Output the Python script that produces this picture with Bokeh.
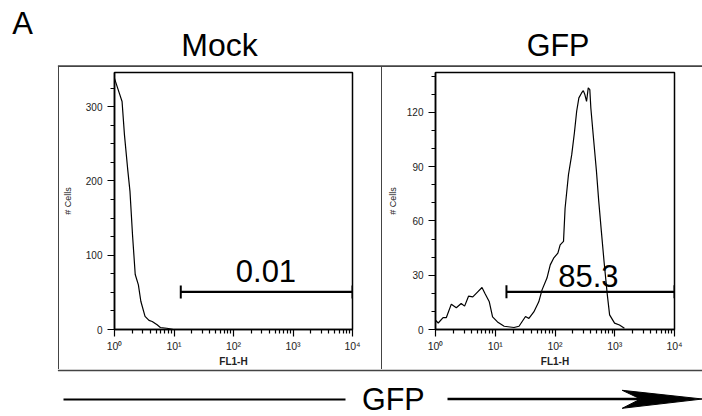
import math
from bokeh.plotting import figure
from bokeh.layouts import row, column
from bokeh.models import Range1d, FixedTicker, Label, Spacer
from bokeh.embed import file_html
from bokeh.resources import INLINE

# ---------------- data ----------------
mock_fl1 = [1.0, 1.13, 1.34, 1.47, 1.66, 1.82, 2.01, 2.23, 2.52, 2.77, 3.26, 3.8, 4.3,
            5.2, 5.9, 7.6, 9.8]
mock_cells = [338, 325, 307, 262, 217, 186, 127, 74, 60, 38, 17.6, 12.2, 10.8,
              6.3, 2.7, 1.7, 0]

gfp_fl1 = [1.0, 1.11, 1.34, 1.52, 1.84, 2.23, 2.69, 3.07, 3.57, 4.21, 5.09, 6.0, 6.73,
           7.95, 9.02, 10.9, 14.1, 20.6, 25.0, 32.1, 36.6, 44.2, 53.5, 60.7, 73.4, 83.3,
           94.8, 111.7, 122, 138.8, 147.5, 168, 190.5, 211, 230.5, 251, 278.6, 297.6,
           316, 337.4, 360, 382.7, 398, 435.6, 494, 540, 597, 662, 751, 820, 993, 1200, 1452]
gfp_cells = [5.1, 3.6, 6.6, 6.6, 14, 12, 14.4, 12.9, 18.4, 18, 20.8, 23.2, 19.9,
             15.3, 7, 4.2, 1.8, 1.1, 1.8, 7.2, 6.1, 9.7, 15.3, 21.9, 28.4, 35.7,
             39.4, 42.2, 46.8, 48.7, 67, 85.5, 96.6, 108.6, 120.6, 128, 130.7, 132,
             129.8, 126, 133.5, 132.5, 122.4, 107.6, 87.4, 70.8, 54.2, 37.6, 19.1, 8.1, 3.5, 2.5, 0.7]

panel_titles = ["Mock", "GFP"]
gate_labels = ["0.01", "85.3"]
mock_gate = [13, 10000]
mock_gate_level = 50.6
gfp_gate = [15.4, 10000]
gfp_gate_level = 20.8
mock_label_pos = (351, 79.4)
gfp_label_pos = (361, 29.7)

mock_ymax = 346
gfp_ymax = 142
mock_yticks = [0, 100, 200, 300]
mock_yminor = [25, 50, 75, 125, 150, 175, 225, 250, 275, 325]
gfp_yticks = [0, 30, 60, 90, 120]
gfp_yminor = [10, 20, 40, 50, 70, 80, 100, 110, 130, 140]
x_ticks = [1, 10, 100, 1000, 10000]
x_tick_labels = ["10\u2070", "10\u00b9", "10\u00b2", "10\u00b3", "10\u2074"]
x_minor = [2, 3, 4, 5, 6, 7, 8, 9,
           20, 30, 40, 50, 60, 70, 80, 90,
           200, 300, 400, 500, 600, 700, 800, 900,
           2000, 3000, 4000, 5000, 6000, 7000, 8000, 9000]
x_label = "FL1-H"
y_label = "# Cells"
axis_arrow_label = "GFP"
panel_letter = "A"

FONT = "Liberation Sans"
BOX = "#444444"

W = 702
H_HEAD = 67
H_MID = 302
H_FOOT = 47


def deco(width, height):
    """Blank figure whose frame fills the canvas, in pixel coordinates (y down)."""
    p = figure(width=width, height=height, x_range=Range1d(0, width),
               y_range=Range1d(height, 0), min_border=0,
               x_axis_location=None, y_axis_location=None,
               toolbar_location=None, output_backend="svg")
    p.grid.visible = False
    p.outline_line_color = None
    p.background_fill_color = "white"
    p.border_fill_color = "white"
    return p


def text(p, x, y, s, size, align="left"):
    p.add_layout(Label(x=x, y=y, text=s, text_align=align, text_baseline="middle",
                       text_font=FONT, text_font_size=size, text_color="black"))


def make_panel(width, bl, br, ymax, yticks, yminor, xs, ys, gate, level, pct, pct_pos,
               ylab_standoff):
    p = figure(width=width, height=H_MID, x_axis_type="log",
               x_range=Range1d(1, 10000), y_range=Range1d(0, ymax),
               output_backend="svg", toolbar_location=None,
               min_border_left=bl, min_border_right=br,
               min_border_top=5, min_border_bottom=40)
    p.grid.visible = False
    p.outline_line_color = "black"
    p.outline_line_width = 1.5
    p.background_fill_color = "white"
    p.border_fill_color = "white"

    p.xaxis.ticker = FixedTicker(ticks=x_ticks, minor_ticks=x_minor)
    p.xaxis.major_label_overrides = {t: l for t, l in zip(x_ticks, x_tick_labels)}
    p.yaxis.ticker = FixedTicker(ticks=yticks, minor_ticks=yminor)
    for ax in (p.xaxis, p.yaxis):
        ax.axis_line_width = 1.5
        ax.axis_line_color = "black"
        ax.major_tick_in = 0
        ax.major_tick_out = 7
        ax.minor_tick_in = 0
        ax.minor_tick_out = 4
        ax.major_tick_line_width = 1.2
        ax.minor_tick_line_width = 1.2
        ax.major_label_text_font = FONT
        ax.major_label_text_color = "#222222"
        ax.axis_label_text_font = FONT
        ax.axis_label_text_color = "#222222"
    p.xaxis.major_label_text_font_size = "10.5px"
    p.yaxis.major_label_text_font_size = "10px"
    p.xaxis.major_label_standoff = 3
    p.xaxis.axis_label = x_label
    p.xaxis.axis_label_standoff = 1
    p.xaxis.axis_label_text_font_size = "10px"
    p.xaxis.axis_label_text_font_style = "bold"
    p.yaxis.major_label_standoff = 5
    p.yaxis.axis_label = y_label
    p.yaxis.axis_label_standoff = ylab_standoff
    p.yaxis.axis_label_text_font_size = "9px"
    p.yaxis.axis_label_text_font_style = "normal"

    p.line(xs, ys, line_color="black", line_width=1.2)
    p.line(gate, [level, level], line_color="black", line_width=2.2)
    p.scatter(gate, [level, level], marker="dash", angle=math.pi / 2, size=13,
              line_color="black", line_width=2)
    p.add_layout(Label(x=pct_pos[0], y=pct_pos[1], text=pct, text_align="center",
                       text_baseline="middle", text_font=FONT, text_font_size="31px",
                       text_color="black"))
    return p


# ---- header: panel letter, panel titles, top edge of the outer box
head = deco(W, H_HEAD)
text(head, 11.7, 22.5, panel_letter, "31px")
text(head, 219, 44.7, panel_titles[0], "32px", "center")
text(head, 557.5, 44.2, panel_titles[1], "30.5px", "center")
head.line([57.4, W], [65.7, 65.7], line_color=BOX, line_width=1.8)

# ---- middle: left box edge, two histogram panels, divider
left_strip = Spacer(width=59, height=H_MID,
                    styles={"border-right": "1.8px solid #444444", "box-sizing": "border-box"})

p1 = make_panel(322, 51, 29, mock_ymax, mock_yticks, mock_yminor, mock_fl1, mock_cells,
                mock_gate, mock_gate_level, gate_labels[0], mock_label_pos, 10)

divider = Spacer(width=3, height=H_MID,
                 styles={"border-left": "1.8px solid #444444", "box-sizing": "border-box"})

p2 = make_panel(318, 48, 28, gfp_ymax, gfp_yticks, gfp_yminor, gfp_fl1, gfp_cells,
                gfp_gate, gfp_gate_level, gate_labels[1], gfp_label_pos, 6)

# ---- footer: bottom edge of box, axis line, "GFP" and arrow
foot = deco(W, H_FOOT)
foot.line([57.4, W], [0.9, 0.9], line_color=BOX, line_width=1.8)
foot.line([63, 345], [30, 30], line_color="black", line_width=2.2)
text(foot, 361.5, 29.5, axis_arrow_label, "30.5px")
foot.line([447, 640], [29.5, 29.5], line_color="black", line_width=2.6)
foot.patch([702, 621.7, 640, 621.7], [29.5, 20.8, 29.5, 38.8], fill_color="black",
           line_color="black", line_width=1)

layout = column(head, row(left_strip, p1, divider, p2, spacing=0), foot, spacing=0)
open("out.html", "w").write(file_html(layout, INLINE))
